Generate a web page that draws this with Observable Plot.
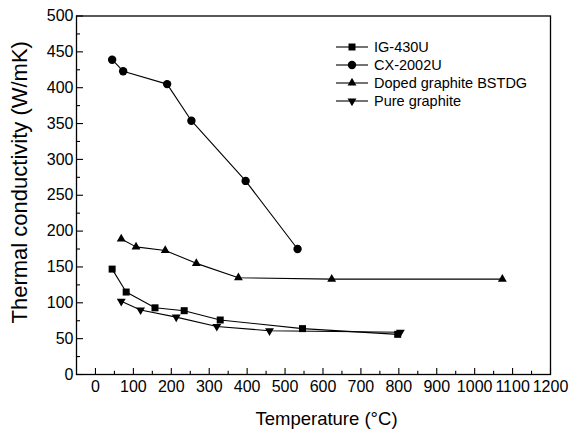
<!DOCTYPE html>
<html><head><meta charset="utf-8">
<script src="https://cdn.jsdelivr.net/npm/d3@7"></script>
<script src="https://cdn.jsdelivr.net/npm/@observablehq/plot@0.6"></script>
<style>
body{margin:0;background:#fff;}
#chart{position:relative;width:571px;height:432px;}
svg{font-family:"Liberation Sans",Arial,Helvetica,sans-serif;}
</style></head><body><div id="chart"></div>
<script>
// ---- data ----
const seriesNames = ["IG-430U", "CX-2002U", "Doped graphite BSTDG", "Pure graphite"];
const igTemp = [44, 81, 157, 234, 329, 546, 797];
const igK = [147, 115, 93, 89, 76, 64, 56];
const cxTemp = [44, 73, 189, 253, 396, 533];
const cxK = [439, 423, 405, 354, 270, 175];
const dopedTemp = [68, 107, 184, 266, 377, 623, 1073];
const dopedK = [189, 178, 173, 155, 135, 133, 133];
const pureTemp = [68, 119, 213, 320, 459, 804];
const pureK = [102, 90, 80, 67, 61, 59];
const xMajor = [0, 100, 200, 300, 400, 500, 600, 700, 800, 900, 1000, 1100, 1200];
const xMinor = [50, 150, 250, 350, 450, 550, 650, 750, 850, 950, 1050, 1150];
const yMajor = [0, 50, 100, 150, 200, 250, 300, 350, 400, 450, 500];
const yMinor = [25, 75, 125, 175, 225, 275, 325, 375, 425, 475];
const xTitle = "Temperature (°C)";
const yTitle = "Thermal conductivity (W/mK)";

const symbolTriangleDown = {
  draw(context, size) {
    const y = -Math.sqrt(size / (Math.sqrt(3) * 3));
    context.moveTo(0, -y * 2);
    context.lineTo(-Math.sqrt(3) * y, y);
    context.lineTo(Math.sqrt(3) * y, y);
    context.closePath();
  }
};
const zip = (xs, ys) => xs.map((x, i) => ({x, y: ys[i]}));
const series = [
  {name: seriesNames[0], data: zip(igTemp, igK), symbol: d3.symbolSquare, r: 3.95},
  {name: seriesNames[1], data: zip(cxTemp, cxK), symbol: d3.symbolCircle, r: 4.2},
  {name: seriesNames[2], data: zip(dopedTemp, dopedK), symbol: d3.symbolTriangle, r: 3.3},
  {name: seriesNames[3], data: zip(pureTemp, pureK), symbol: symbolTriangleDown, r: 3.3}
];

const W = 571, H = 432, mL = 76, mR = 21, mT = 15.5, mB = 58;
const innerW = W - mL - mR, innerH = H - mT - mB;

const marks = [
  Plot.ruleX(xMajor, {x: d => d, insetTop: innerH - 6, stroke: "black", strokeWidth: 1.1}),
  Plot.ruleX(xMinor, {x: d => d, insetTop: innerH - 3.3, stroke: "black", strokeWidth: 1.1}),
  Plot.ruleY(yMajor, {y: d => d, insetRight: innerW - 7, stroke: "black", strokeWidth: 1.1}),
  Plot.ruleY(yMinor, {y: d => d, insetRight: innerW - 4, stroke: "black", strokeWidth: 1.1}),
  Plot.axisX(xMajor, {tickSize: 0, tickPadding: 6, fontSize: 16, label: null, tickFormat: d => String(d)}),
  Plot.axisY(yMajor, {tickSize: 0, tickPadding: 3, fontSize: 16, label: null, tickFormat: d => String(d)}),
  Plot.frame({stroke: "black", strokeWidth: 1.3}),
  Plot.text([yTitle], {text: d => d, frameAnchor: "left", textAnchor: "middle", rotate: -90, dx: -57, dy: -13, fontSize: 22, lineAnchor: "middle", fill: "black"}),
  Plot.text([xTitle], {text: d => d, frameAnchor: "bottom", textAnchor: "middle", dx: 13, dy: 45, fontSize: 18.5, lineAnchor: "middle", fill: "black"})
];
for (const s of series) {
  marks.push(Plot.line(s.data, {x: "x", y: "y", stroke: "black", strokeWidth: 1.1}));
  marks.push(Plot.dot(s.data, {x: "x", y: "y", symbol: s.symbol, r: s.r, fill: "black", stroke: "none"}));
}

const chart = Plot.plot({
  width: W, height: H,
  marginLeft: mL, marginRight: mR, marginTop: mT, marginBottom: mB,
  x: {domain: [-50, 1200]},
  y: {domain: [0, 500]},
  style: {fontFamily: "'Liberation Sans', Arial, sans-serif", background: "white", color: "black", overflow: "visible"},
  marks
});
document.getElementById("chart").appendChild(chart);

// legend
const svg = d3.select(chart);
const lg = svg.append("g").attr("class", "legend").attr("text-anchor", "start");
const rowY = [47, 65, 83, 101];
series.forEach((s, i) => {
  const g = lg.append("g").attr("transform", `translate(0,${rowY[i]})`);
  g.append("line").attr("x1", 336).attr("x2", 368).attr("y1", 0).attr("y2", 0).attr("stroke", "black").attr("stroke-width", 1.1);
  g.append("path").attr("transform", "translate(352,0)")
    .attr("d", d3.symbol(s.symbol, s.r * s.r * Math.PI)()).attr("fill", "black").attr("stroke", "none");
  g.append("text").attr("x", 374).attr("y", 0).attr("dy", "0.35em").attr("text-anchor", "start")
    .attr("font-size", 14.5).attr("fill", "black").text(s.name);
});
</script></body></html>
